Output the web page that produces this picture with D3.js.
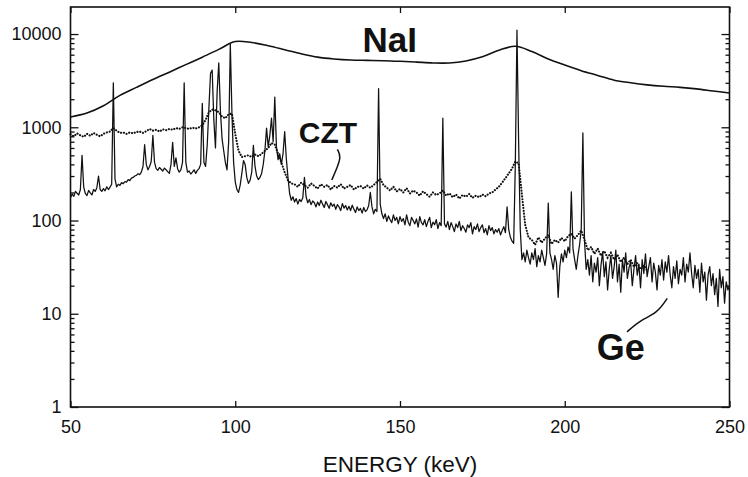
<!DOCTYPE html>
<html>
<head>
<meta charset="utf-8">
<script src="https://cdn.jsdelivr.net/npm/d3@7"></script>
<style>
  body { margin: 0; background: #fff; }
  text { font-family: "Liberation Sans", Arial, sans-serif; fill: #111; }
</style>
</head>
<body>
<div id="chart-area"></div>
<script>
// DATA: counts per energy bin
// Ge detector, 0.5 keV bins from 50 to 250 keV
const GE_START = 50, GE_STEP = 0.5
const geCounts = [
  175, 192, 182, 205, 196, 188, 215, 500, 230, 195,
  185, 210, 198, 188, 215, 205, 225, 300, 215, 205,
  220, 208, 230, 215, 228, 245, 3000, 280, 230, 245,
  238, 255, 248, 262, 258, 275, 268, 285, 290, 300,
  305, 318, 310, 330, 380, 650, 400, 350, 380, 430,
  820, 420, 360, 345, 370, 355, 340, 365, 350, 335,
  320, 400, 690, 380, 470, 360, 330, 350, 420, 3000,
  420, 330, 340, 315, 330, 350, 320, 345, 360, 400,
  1800, 420, 380, 650, 1600, 3800, 4100, 1200, 600, 2400,
  4900, 1500, 750, 560, 420, 350, 700, 7800, 1400, 420,
  260, 215, 200, 240, 320, 440, 400, 290, 250, 270,
  330, 640, 380, 300, 275, 290, 320, 400, 560, 980,
  620, 820, 1250, 700, 2100, 620, 450, 520, 400, 520,
  900, 460, 290, 195, 165, 180, 158, 172, 150, 168,
  160, 175, 290, 180, 155, 168, 148, 162, 155, 140,
  158, 145, 165, 150, 138, 160, 148, 135, 155, 142,
  150, 132, 148, 140, 128, 152, 136, 145, 130, 142,
  128, 146, 133, 122, 140, 128, 135, 120, 138, 125,
  130, 145, 200, 140, 118, 132, 125, 2600, 150, 118,
  105, 118, 98, 112, 102, 95, 115, 100, 108, 92,
  110, 98, 105, 90, 115, 96, 88, 108, 100, 92,
  104, 85, 110, 95, 90, 102, 86, 98, 108, 84,
  96, 90, 102, 82, 95, 88, 1250, 92, 85, 98,
  80, 95, 86, 76, 92, 84, 98, 78, 88, 82,
  75, 90, 84, 95, 72, 86, 80, 92, 76, 84,
  90, 74, 82, 70, 88, 78, 84, 72, 80, 75,
  82, 70, 78, 86, 74, 140, 80, 66, 60, 57,
  400, 11000, 700, 80, 38, 45, 36, 48, 40, 34,
  45, 38, 50, 32, 42, 36, 48, 40, 33, 44,
  154, 45, 38, 30, 42, 35, 15, 32, 44, 36,
  48, 40, 52, 45, 203, 50, 38, 30, 42, 55,
  80, 870, 60, 30, 38, 26, 42, 22, 35, 28,
  40, 20, 33, 46, 25, 36, 18, 30, 42, 24,
  32, 48, 22, 34, 17, 38, 28, 45, 24, 31,
  36, 20, 30, 42, 26, 34, 19, 38, 27, 44,
  25, 32, 40, 22, 35, 28, 18, 33, 26, 38,
  23, 36, 28, 42, 26, 19, 32, 24, 37, 21,
  30, 26, 40, 22, 34, 28, 45, 27, 19, 33,
  24, 30, 17, 35, 22, 28, 14, 26, 32, 20,
  27, 16, 24, 12, 30, 19, 25, 13, 22, 18,
  20
]

// CZT detector, 1 keV bins from 50 to 225 keV (dotted trace)
const CZT_START = 50, CZT_STEP = 1
const cztCounts = [
  840, 800, 860, 820, 790, 850, 810, 870, 830, 800,
  850, 880, 900, 980, 920, 870, 880, 850, 880, 860,
  890, 900, 870, 910, 960, 920, 940, 900, 950, 930,
  960, 940, 980, 960, 1000, 980, 960, 990, 970, 1000,
  1050, 1200, 1450, 1550, 1520, 1450, 1300, 1250, 1380, 1400,
  850, 560, 480, 490, 500, 480, 510, 490, 520, 560,
  600, 680, 650, 520, 420, 330, 270, 250, 245, 230,
  255, 240, 225, 250, 235, 220, 245, 230, 240, 215,
  235, 225, 245, 220, 230, 240, 215, 228, 235, 220,
  238, 225, 240, 260, 280, 240, 225, 210, 230, 205,
  218, 200, 222, 195, 210, 200, 185, 205, 192, 180,
  200, 188, 195, 210, 185, 195, 178, 190, 172, 188,
  180, 192, 175, 185, 178, 190, 182, 195, 200, 215,
  230, 255, 285, 320, 360, 430, 410, 190, 90, 66,
  62, 55, 66, 58, 64, 70, 56, 62, 58, 65,
  60, 68, 72, 64, 70, 78, 62, 48, 52, 44,
  50, 42, 47, 40, 45, 38, 43, 36, 40, 34,
  38, 32, 35, 30, 33, 29
]

// NaI detector, 5 keV bins from 50 to 250 keV (smooth trace)
const NAI_START = 50, NAI_STEP = 5
const naiCounts = [
  1290, 1420, 1700, 2200, 2680, 3250, 3900, 4700, 5650, 6850,
  8300, 8100, 7500, 6800, 6150, 5650, 5400, 5260, 5220, 5180,
  5100, 5000, 4900, 4900, 5150, 5700, 6700, 7400, 6500, 5400,
  4650, 4050, 3600, 3200, 3000, 2850, 2750, 2680, 2580, 2450,
  2330
]

// axis ticks
const xTicks = [50, 100, 150, 200, 250]
const yTicks = [1, 10, 100, 1000, 10000]

// series labels and their leader lines (keV, counts)
const labels = [
  {text: "NaI", e: 138.6, c: 6400, size: 35},
  {text: "CZT", e: 119.3, c: 680, size: 30},
  {text: "Ge", e: 209.7, c: 3.2, size: 36}
]
const cztLeader = [[131.0, 580], [132.2, 483], [130.6, 348], [129.3, 272]]
const geLeader = [[218.9, 6.4], [223.0, 8.6], [228.0, 10.1], [231.1, 14.6]]

// SET MARGIN / DIMENSIONS
const MARGIN = {LEFT: 70.5, TOP: 7, RIGHT: 18.5, BOTTOM: 70}
const WIDTH = 748 - MARGIN.LEFT - MARGIN.RIGHT
const HEIGHT = 477 - MARGIN.TOP - MARGIN.BOTTOM

const svg = d3.select("#chart-area").append("svg")
    .attr("width", 748)
    .attr("height", 477)

const g = svg.append("g")
    .attr("transform", `translate(${MARGIN.LEFT}, ${MARGIN.TOP})`)

// SCALES
const x = d3.scaleLinear().domain([50, 250]).range([0, WIDTH])
const y = d3.scaleLog().domain([1, 19500]).range([HEIGHT, 0])

const toPoints = (vals, start, step) => vals.map((v, i) => [start + i * step, v])
const gePts = toPoints(geCounts, GE_START, GE_STEP)
const cztPts = toPoints(cztCounts, CZT_START, CZT_STEP)
const naiPts = toPoints(naiCounts, NAI_START, NAI_STEP)

// --- + minor ticks (2..9 in each decade), both sides
const minor = []
yTicks.forEach(t => {
    for (let k = 2; k <= 9; k++) if (t * k <= 19500) minor.push(t * k)
})
g.append("g")
    .call(d3.axisLeft(y).tickValues(minor).tickSize(-4).tickFormat(""))
g.append("g")
    .attr("transform", `translate(${WIDTH}, 0)`)
    .call(d3.axisRight(y).tickValues(minor).tickSize(-4).tickFormat(""))

// --- + y axes
g.append("g")
    .attr("class", "yaxis")
    .call(d3.axisLeft(y).tickValues(yTicks).tickSize(-8).tickPadding(9).tickFormat(d3.format("d")))
g.append("g")
    .attr("transform", `translate(${WIDTH}, 0)`)
    .call(d3.axisRight(y).tickValues(yTicks).tickSize(-8).tickFormat(""))

// --- + x axes (bottom labelled, top ticks only)
g.append("g")
    .attr("class", "xaxis")
    .attr("transform", `translate(0, ${HEIGHT})`)
    .call(d3.axisBottom(x).tickValues(xTicks).tickSize(-6).tickPadding(13))
g.append("g")
    .call(d3.axisTop(x).tickValues(xTicks).tickSize(-6).tickFormat(""))

g.selectAll(".domain").remove()
g.selectAll(".tick line").attr("stroke", "#111").attr("stroke-width", 1.3)
g.selectAll(".yaxis text, .xaxis text")
    .attr("font-size", "18px")
    .attr("fill", "#111")

// frame
g.append("rect")
    .attr("width", WIDTH)
    .attr("height", HEIGHT)
    .attr("fill", "none")
    .attr("stroke", "#111")
    .attr("stroke-width", 1.6)

// x axis title
g.append("text")
    .attr("x", x(150))
    .attr("y", HEIGHT + 65)
    .attr("text-anchor", "middle")
    .attr("font-size", "22.5px")
    .text("ENERGY (keV)")

// SPECTRA
const plot = g.append("g")

plot.append("path")
    .attr("fill", "none")
    .attr("stroke", "#111")
    .attr("stroke-width", 1.6)
    .attr("d", d3.line().x(d => x(d[0])).y(d => y(d[1])).curve(d3.curveCatmullRom)(naiPts))

plot.append("path")
    .attr("fill", "none")
    .attr("stroke", "#111")
    .attr("stroke-width", 2.1)
    .attr("stroke-linecap", "round")
    .attr("stroke-dasharray", "0.1,2.8")
    .attr("d", d3.line().x(d => x(d[0])).y(d => y(d[1]))(cztPts))

plot.append("path")
    .attr("fill", "none")
    .attr("stroke", "#111")
    .attr("stroke-width", 1.25)
    .attr("stroke-linejoin", "round")
    .attr("d", d3.line().x(d => x(d[0])).y(d => y(d[1]))(gePts))

// LABELS
g.selectAll(".series-label")
    .data(labels)
    .enter()
    .append("text")
    .attr("class", "series-label")
    .attr("x", d => x(d.e))
    .attr("y", d => y(d.c))
    .attr("font-size", d => d.size + "px")
    .attr("font-weight", "bold")
    .text(d => d.text)

const leader = d3.line().x(d => x(d[0])).y(d => y(d[1])).curve(d3.curveBasis)
;[cztLeader, geLeader].forEach(pts => {
    g.append("path")
        .attr("d", leader(pts))
        .attr("fill", "none")
        .attr("stroke", "#111")
        .attr("stroke-width", 1.5)
})
</script>
</body>
</html>
